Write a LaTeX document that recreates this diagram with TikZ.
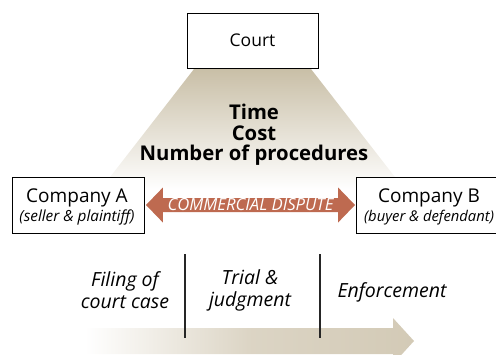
\documentclass[tikz,border=0pt]{standalone}
\usepackage{fontspec}
\setmainfont{Open Sans}
\usetikzlibrary{shapes.arrows,shadows}
\definecolor{tan}{HTML}{C9BFA7}
\definecolor{tanarrow}{HTML}{D3CAB6}
\definecolor{terra}{HTML}{BE6A50}
\tikzset{
  box/.style={draw=black, line width=0.9pt, fill=white, align=center, inner sep=0pt,
    drop shadow={shadow xshift=1.3pt, shadow yshift=-1.3pt, fill=black!75, opacity=1}},
  phase/.style={font=\fontsize{19.5}{22}\selectfont\itshape, align=center, inner sep=0pt},
  divider/.style={line width=1.6pt, black!85},
}
\begin{document}
\begin{tikzpicture}[x=1pt,y=-1pt]
\useasboundingbox (0,0) rectangle (496,354);
\clip (0,0) rectangle (496,354);
% funnel from court
\shade[top color=tan, bottom color=white] (194,69) -- (311,69) -- (405,190) -- (100,190) -- cycle;
% bottom process arrow
\shade[left color=white, right color=tanarrow, middle color=tanarrow!80] (85,328) -- (393,328) -- (393,318) -- (414,341) -- (393,364) -- (393,354) -- (85,354) -- cycle;
% boxes
\node[box, minimum width=131pt, minimum height=55pt] (court) at (252.5,40.5) {\fontsize{17.5}{20}\selectfont Court};
\node[box, minimum width=132pt, minimum height=56pt] (compA) at (78,205) {};
\node[align=center, inner sep=0pt] (compAtext) at (77,207)
  {{\fontsize{19}{20}\selectfont Company A}\\[2pt]{\fontsize{15.3}{18}\selectfont\itshape (seller \& plaintiff)}};
\node[box, minimum width=150pt, minimum height=56pt, anchor=west] (compB) at (355.5,205) {};
\node[align=center, inner sep=0pt] (compBtext) at (429,207)
  {{\fontsize{19}{20}\selectfont Company B}\\[2pt]{\fontsize{14.8}{18}\selectfont\itshape (buyer \& defendant)}};
% criteria
\node[font=\fontsize{20.3}{20.5}\selectfont\bfseries, align=center, inner sep=0pt] (crit) at (254,135) {Time\\Cost\\Number of procedures};
% dispute arrow
\node[double arrow, fill=terra, minimum width=35pt, minimum height=209pt, inner sep=0pt,
  double arrow head extend=9.5pt, double arrow tip angle=92, text=white,
  font=\fontsize{16.7}{18}\selectfont\itshape] (dispute) at (250.5,205) {COMMERCIAL DISPUTE};
% phases
\node[phase] (filing) at (125,290) {Filing of\\court case};
\node[phase] (trial) at (250,290) {Trial \&\\judgment};
\node[phase] (enf) at (392,292) {Enforcement};
\coordinate (d1t) at (185,254); \coordinate (d1b) at (185,338);
\coordinate (d2t) at (320,254); \coordinate (d2b) at (320,338);
\draw[divider] (d1t) -- (d1b);
\draw[divider] (d2t) -- (d2b);
\end{tikzpicture}
\end{document}
